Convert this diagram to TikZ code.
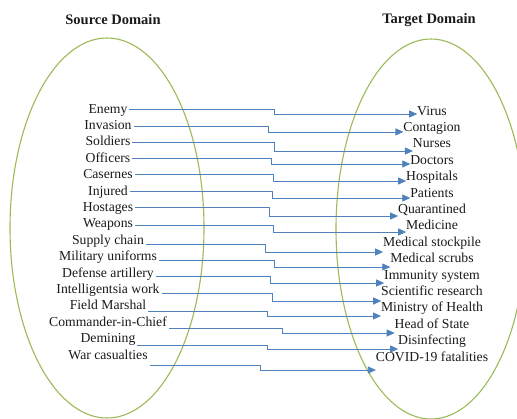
\documentclass[tikz,border=0pt]{standalone}
\usepackage{fontspec}
\setmainfont{Liberation Serif}
\usetikzlibrary{positioning,arrows.meta}
\definecolor{cblue}{HTML}{4F81BD}
\definecolor{cgreen}{HTML}{9BBB59}
\definecolor{ctext}{HTML}{1A1A1A}

\begin{document}
\begin{tikzpicture}[x=1pt,y=-1pt,
    font=\fontsize{13.7}{16}\selectfont,text=ctext,
    lbl/.style={inner sep=0pt,outer sep=0pt,text height=10pt,text depth=3pt},
    ttl/.style={font=\fontsize{14.5}{17}\selectfont\bfseries},
    dom/.style={draw=cgreen,line width=1.1pt},
    ar/.style={-{Triangle[length=8pt,width=7pt]},draw=cblue,line width=0.8pt},
    node distance=3.4pt]
    \useasboundingbox (0,0) rectangle (517,418);
    \draw[dom] (107,228) ellipse [x radius=97,y radius=190];
    \draw[dom] (431,229) ellipse [x radius=95,y radius=190];
    \node[ttl] (srcttl) at (113,20) {Source Domain};
    \node[ttl] (tgtttl) at (429,20) {Target Domain};
    \node[lbl] (s1) at (108,109.5) {Enemy};
    \node[lbl,below=of s1]  (s2)  {Invasion};
    \node[lbl,below=of s2]  (s3)  {Soldiers};
    \node[lbl,below=of s3]  (s4)  {Officers};
    \node[lbl,below=of s4]  (s5)  {Casernes};
    \node[lbl,below=of s5]  (s6)  {Injured};
    \node[lbl,below=of s6]  (s7)  {Hostages};
    \node[lbl,below=of s7]  (s8)  {Weapons};
    \node[lbl,below=of s8]  (s9)  {Supply chain};
    \node[lbl,below=of s9]  (s10) {Military uniforms};
    \node[lbl,below=of s10] (s11) {Defense artillery};
    \node[lbl,below=of s11] (s12) {Intelligentsia work};
    \node[lbl,below=of s12] (s13) {Field Marshal};
    \node[lbl,below=of s13] (s14) {Commander-in-Chief};
    \node[lbl,below=of s14] (s15) {Demining};
    \node[lbl,below=of s15] (s16) {War casualties};
    \node[lbl] (t1) at (432,111.5) {Virus};
    \node[lbl,below=of t1]  (t2)  {Contagion};
    \node[lbl,below=of t2]  (t3)  {Nurses};
    \node[lbl,below=of t3]  (t4)  {Doctors};
    \node[lbl,below=of t4]  (t5)  {Hospitals};
    \node[lbl,below=of t5]  (t6)  {Patients};
    \node[lbl,below=of t6]  (t7)  {Quarantined};
    \node[lbl,below=of t7]  (t8)  {Medicine};
    \node[lbl,below=of t8]  (t9)  {Medical stockpile};
    \node[lbl,below=of t9]  (t10) {Medical scrubs};
    \node[lbl,below=of t10] (t11) {Immunity system};
    \node[lbl,below=of t11] (t12) {Scientific research};
    \node[lbl,below=of t12] (t13) {Ministry of Health};
    \node[lbl,below=of t13] (t14) {Head of State};
    \node[lbl,below=of t14] (t15) {Disinfecting};
    \node[lbl,below=of t15] (t16) {COVID-19 fatalities};
    \draw[ar] ([xshift=2pt,yshift=0.5pt]s1.east)   -- ++(145,0) |- ([yshift=-2.5pt]t1.west);
    \draw[ar] ([xshift=2pt,yshift=0pt]s2.east)     -- ++(135,0) |- ([yshift=-4pt]t2.west);
    \draw[ar] ([xshift=2pt,yshift=0.3pt]s3.east)   -- ++(142,0) |- ([yshift=-6.7pt]t3.west);
    \draw[ar] ([xshift=2pt,yshift=0.7pt]s4.east)   -- ++(139,0) |- ([yshift=-3.3pt]t4.west);
    \draw[ar] ([xshift=2pt,yshift=1.1pt]s5.east)   -- ++(139,0) |- ([yshift=-3.9pt]t5.west);
    \draw[ar] ([xshift=2pt,yshift=0.5pt]s6.east)   -- ++(143,0) |- ([yshift=-4.5pt]t6.west);
    \draw[ar] ([xshift=2pt,yshift=0.9pt]s7.east)   -- ++(134,0) |- ([yshift=-6.1pt]t7.west);
    \draw[ar] ([xshift=2pt,yshift=-0.7pt]s8.east)  -- ++(138,0) |- ([yshift=-5.7pt]t8.west);
    \draw[ar] ([xshift=2pt,yshift=-3.3pt]s9.east)  -- ++(119,0) |- ([yshift=-9.3pt]t9.west);
    \draw[ar] ([xshift=2pt,yshift=-2.9pt]s10.east) -- ++(116,0) |- ([yshift=-7.9pt]t10.west);
    \draw[ar] ([xshift=2pt,yshift=-2.5pt]s11.east) -- ++(115,0) |- ([yshift=-7.5pt]t11.west);
    \draw[ar] ([xshift=2pt,yshift=-3.1pt]s12.east) -- ++(111,0) |- ([yshift=-9.1pt]t12.west);
    \draw[ar] ([xshift=2pt,yshift=-4.7pt]s13.east) -- ++(119,0) |- ([yshift=-7.7pt]t13.west);
    \draw[ar] ([xshift=2pt,yshift=-5.3pt]s14.east) -- ++(114,0) |- ([yshift=-8.3pt]t14.west);
    \draw[ar] ([xshift=2pt,yshift=-5.9pt]s15.east) -- ++(130,0) |- ([yshift=-7.9pt]t15.west);
    \draw[ar] ([xshift=2pt,yshift=-9.5pt]s16.east) -- ++(111,0) |- ([yshift=-12.5pt]t16.west);
\end{tikzpicture}
\end{document}
